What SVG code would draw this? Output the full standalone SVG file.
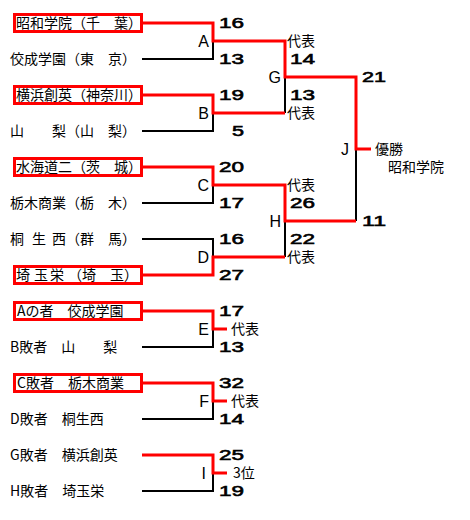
<svg xmlns="http://www.w3.org/2000/svg" width="470" height="520" viewBox="0 0 470 520">
<style>
.t{font-family:"Noto Sans CJK JP","Noto Sans CJK SC",sans-serif;font-size:14px;fill:#000}
.box{fill:none;stroke:#f00;stroke-width:3}
.s{font-family:"Liberation Sans",Arial,sans-serif;font-size:15px;fill:#000;stroke:#000;stroke-width:0.6}
.lb{font-family:"Liberation Sans",Arial,sans-serif;font-size:16px;fill:#000;text-anchor:end}
.r{fill:none;stroke:#f00;stroke-width:3}
.k{fill:none;stroke:#000;stroke-width:2}
</style>
<rect width="470" height="520" fill="#fff"/>
<g id="connectors">
  <path class="k" d="M142 59H213V41"/>
  <path class="k" d="M142 131H213V113"/>
  <path class="k" d="M142 203H213V185"/>
  <path class="k" d="M142 239H213V257"/>
  <path class="k" d="M285 77V113"/>
  <path class="k" d="M285 221V257"/>
  <path class="k" d="M356 149V221"/>
  <path class="k" d="M142 347H213V329"/>
  <path class="k" d="M142 419H213V401"/>
  <path class="k" d="M142 491H213V473"/>
  <path class="r" d="M143 23H213V41H285V77H356V149H371"/>
  <path class="r" d="M143 95H213V113H285"/>
  <path class="r" d="M143 167H213V185H285V221H356"/>
  <path class="r" d="M143 275H213V257H285"/>
  <path class="r" d="M143 311H213V329H227"/>
  <path class="r" d="M143 383H213V401H227"/>
  <path class="r" d="M142 455H213V473H227"/>
</g>
<g id="team-showa"><rect class="box" x="14.5" y="14.5" width="127" height="17"/><text class="t" x="16" y="28">昭和学院（千　葉）</text></g>
<g id="team-kosei"><text class="t" x="10" y="64">佼成学園（東　京）</text></g>
<g id="team-yokohama"><rect class="box" x="14.5" y="86.5" width="127" height="17"/><text class="t" x="16" y="100">横浜創英（神奈川）</text></g>
<g id="team-yamanashi"><text class="t" x="10" y="136">山　　梨（山　梨）</text></g>
<g id="team-mitsukaido"><rect class="box" x="14.5" y="158.5" width="127" height="17"/><text class="t" x="16" y="172">水海道二（茨　城）</text></g>
<g id="team-tochigi"><text class="t" x="10" y="208">栃木商業（栃　木）</text></g>
<g id="team-kiryu"><text class="t" y="244"><tspan x="10 32 52">桐生西</tspan><tspan x="66">（群　馬）</tspan></text></g>
<g id="team-saitama"><rect class="box" x="14.5" y="266.5" width="127" height="17"/><text class="t" y="280"><tspan x="16 34 50">埼玉栄</tspan><tspan x="68">（埼　玉）</tspan></text></g>
<g id="team-e1"><rect class="box" x="14.5" y="302.5" width="127" height="17"/><text class="t" x="17" y="316">Aの者　佼成学園</text></g>
<g id="team-e2"><text class="t" x="10" y="352">B敗者　山　　梨</text></g>
<g id="team-f1"><rect class="box" x="14.5" y="374.5" width="127" height="17"/><text class="t" x="17" y="388">C敗者　栃木商業</text></g>
<g id="team-f2"><text class="t" x="10" y="424">D敗者　桐生西</text></g>
<g id="team-i1"><text class="t" x="10" y="460">G敗者　横浜創英</text></g>
<g id="team-i2"><text class="t" x="10" y="496">H敗者　埼玉栄</text></g>
<g id="match-A"><text class="lb" x="209" y="47">A</text><text class="s" x="219" y="28" textLength="25" lengthAdjust="spacingAndGlyphs">16</text><text class="s" x="219" y="64" textLength="25" lengthAdjust="spacingAndGlyphs">13</text></g>
<g id="match-B"><text class="lb" x="209" y="119">B</text><text class="s" x="219" y="100" textLength="25" lengthAdjust="spacingAndGlyphs">19</text><text class="s" x="232" y="136" textLength="12" lengthAdjust="spacingAndGlyphs">5</text></g>
<g id="match-C"><text class="lb" x="209" y="191">C</text><text class="s" x="219" y="172" textLength="25" lengthAdjust="spacingAndGlyphs">20</text><text class="s" x="219" y="208" textLength="25" lengthAdjust="spacingAndGlyphs">17</text></g>
<g id="match-D"><text class="lb" x="209" y="263">D</text><text class="s" x="219" y="244" textLength="25" lengthAdjust="spacingAndGlyphs">16</text><text class="s" x="219" y="280" textLength="25" lengthAdjust="spacingAndGlyphs">27</text></g>
<g id="match-G"><text class="lb" x="281" y="83">G</text><text class="t" x="287" y="46">代表</text><text class="s" x="290" y="64" textLength="25" lengthAdjust="spacingAndGlyphs">14</text><text class="s" x="290" y="100" textLength="25" lengthAdjust="spacingAndGlyphs">13</text><text class="t" x="287" y="118">代表</text></g>
<g id="match-H"><text class="lb" x="281" y="227">H</text><text class="t" x="287" y="190">代表</text><text class="s" x="290" y="208" textLength="25" lengthAdjust="spacingAndGlyphs">26</text><text class="s" x="290" y="244" textLength="25" lengthAdjust="spacingAndGlyphs">22</text><text class="t" x="287" y="262">代表</text></g>
<g id="match-J"><text class="lb" x="349" y="155">J</text><text class="s" x="362" y="82" textLength="24" lengthAdjust="spacingAndGlyphs">21</text><text class="s" x="362" y="226" textLength="24" lengthAdjust="spacingAndGlyphs">11</text><text class="t" x="375" y="154">優勝</text><text class="t" x="388" y="172">昭和学院</text></g>
<g id="match-E"><text class="lb" x="209" y="335">E</text><text class="s" x="219" y="316" textLength="25" lengthAdjust="spacingAndGlyphs">17</text><text class="t" x="231" y="334">代表</text><text class="s" x="219" y="352" textLength="25" lengthAdjust="spacingAndGlyphs">13</text></g>
<g id="match-F"><text class="lb" x="209" y="407">F</text><text class="s" x="219" y="388" textLength="25" lengthAdjust="spacingAndGlyphs">32</text><text class="t" x="231" y="406">代表</text><text class="s" x="219" y="424" textLength="25" lengthAdjust="spacingAndGlyphs">14</text></g>
<g id="match-I"><text class="lb" x="206" y="479">I</text><text class="s" x="219" y="460" textLength="25" lengthAdjust="spacingAndGlyphs">25</text><text class="t" x="233" y="478">3位</text><text class="s" x="219" y="496" textLength="25" lengthAdjust="spacingAndGlyphs">19</text></g>
</svg>
